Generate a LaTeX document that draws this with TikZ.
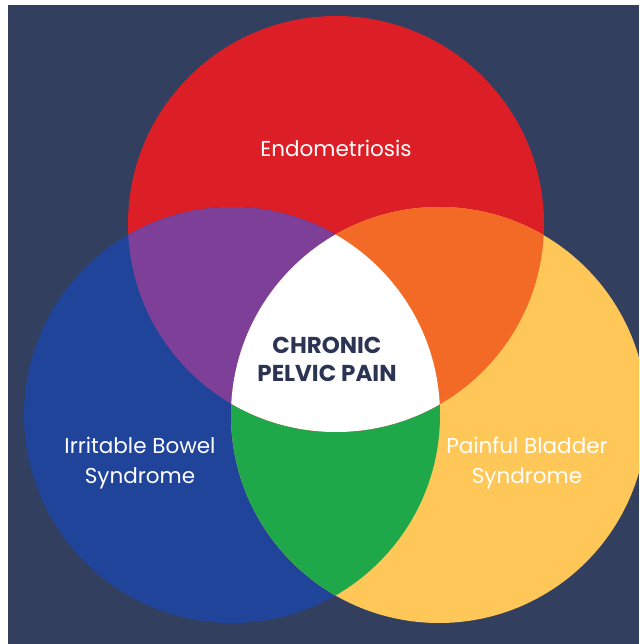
\documentclass[tikz,border=0pt]{standalone}
\usepackage{fontspec}
\setmainfont{Poppins}
\definecolor{navyBg}{HTML}{323F5E}
\definecolor{endoRed}{HTML}{DC1F26}
\definecolor{ibsBlue}{HTML}{20449A}
\definecolor{pbsGold}{HTML}{FEC758}
\definecolor{mixPurple}{HTML}{7E3F98}
\definecolor{mixOrange}{HTML}{F26A25}
\definecolor{mixGreen}{HTML}{1EA84A}
\definecolor{coreTxt}{HTML}{2C3454}
\tikzset{
  ring/.style ={fill=#1},
  lbl/.style  ={text=white, align=center, font=\fontsize{21.5}{30}\selectfont},
  core/.style ={text=coreTxt, align=center, font=\bfseries\fontsize{23}{28}\selectfont},
}

\begin{document}
\begin{tikzpicture}[x=1pt,y=-1pt]
  \useasboundingbox (0,0) rectangle (639,644);
  \fill[white] (0,0) rectangle (639,644);
  \fill[navyBg] (8,5) rectangle (639,644);
  \clip (8,5) rectangle (639,644);
  \coordinate (cE) at (336,224);
  \coordinate (cI) at (232,415);
  \coordinate (cP) at (439,415);
  \fill[ring=endoRed] (cE) circle[radius=208pt];
  \fill[ring=ibsBlue] (cI) circle[radius=208pt];
  \fill[ring=pbsGold] (cP) circle[radius=208pt];
  % pairwise overlaps, then the common core
  \begin{scope}
    \clip (cI) circle[radius=208pt];
    \fill[ring=mixGreen] (cP) circle[radius=208pt];
  \end{scope}
  \begin{scope}
    \clip (cE) circle[radius=208pt];
    \fill[ring=mixPurple] (cI) circle[radius=208pt];
    \fill[ring=mixOrange] (cP) circle[radius=208pt];
    \clip (cI) circle[radius=208pt];
    \fill[ring=white] (cP) circle[radius=208pt];
  \end{scope}
  \node[lbl]  (endo) at (336,148) {Endometriosis};
  \node[lbl]  (ibs)  at (140,463) {Irritable Bowel\\Syndrome};
  \node[lbl]  (pbs)  at (527,463) {Painful Bladder\\Syndrome};
  \node[core] (cpp)  at (327,359) {CHRONIC\\PELVIC PAIN};
\end{tikzpicture}
\end{document}
